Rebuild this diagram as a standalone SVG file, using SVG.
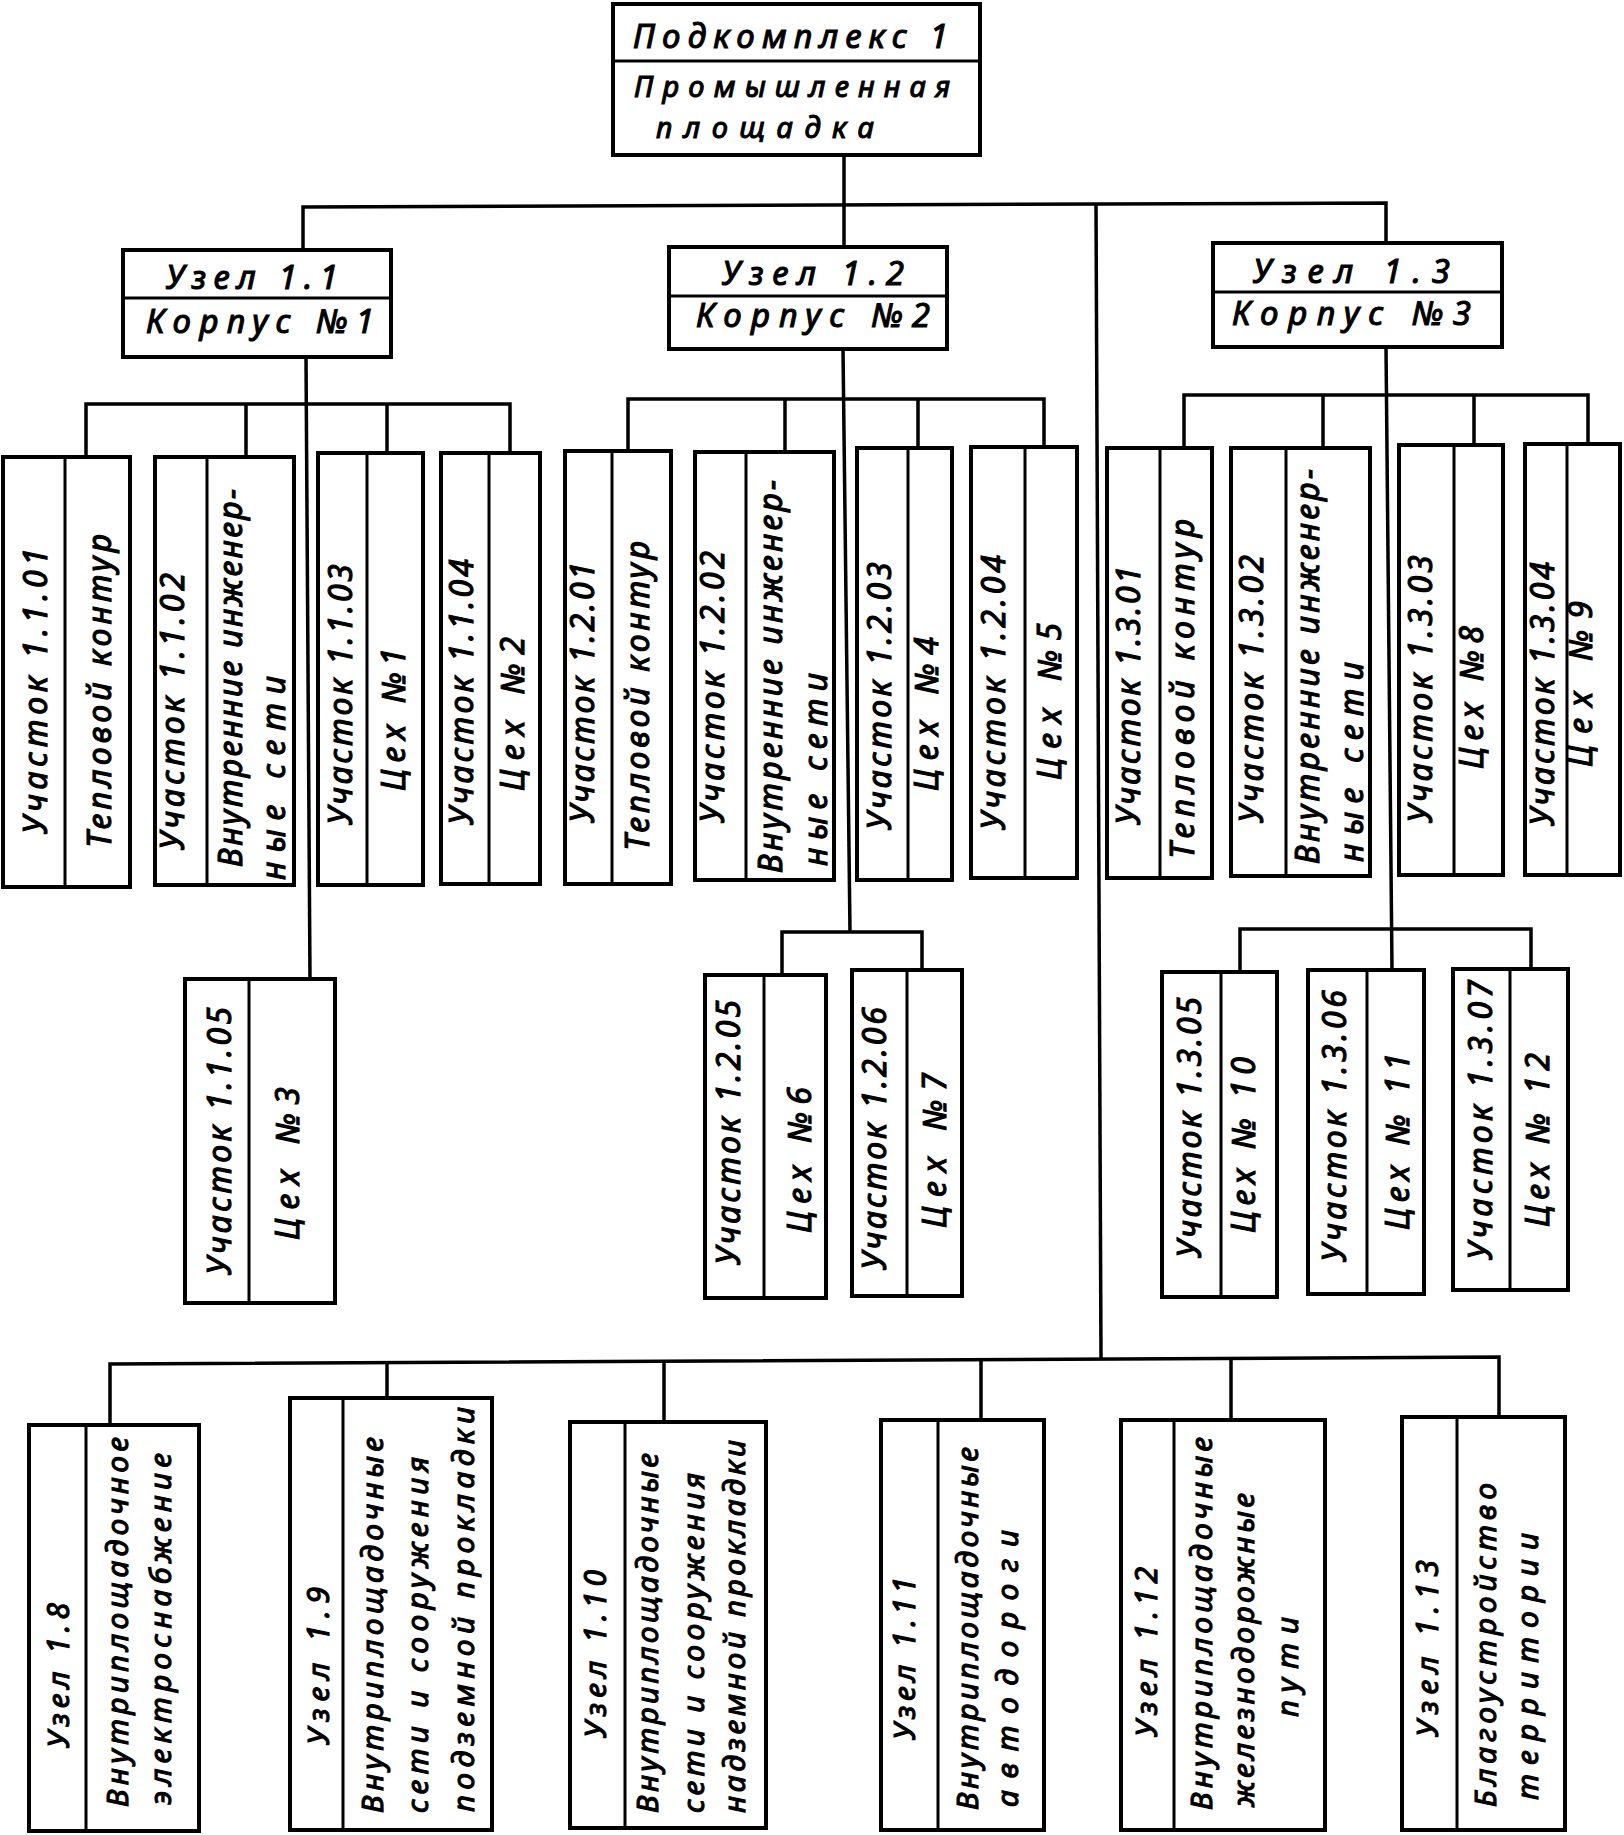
<svg xmlns="http://www.w3.org/2000/svg" width="1624" height="1835" viewBox="0 0 1624 1835">
<style>
.box{fill:#fff;stroke:#000;stroke-width:4}
.dv{stroke:#000;stroke-width:3}
.conn{fill:none;stroke:#000;stroke-width:3.5;stroke-linejoin:miter}
text{font-family:"Noto Sans","DejaVu Sans",sans-serif;font-style:italic;fill:#000;stroke:#000;stroke-width:1.1}
.h{font-size:33px}
.h2{font-size:29px}
.v{font-size:32px}
.s{font-size:30px}
</style>
<rect width="1624" height="1835" fill="#fff"/>
<g id="connectors">
<path class="conn" d="M844,155 V247"/>
<path class="conn" d="M303,250 V207 L1386,203 V243"/>
<path class="conn" d="M1096,205 L1101,1358"/>
<path class="conn" d="M110,1425 V1364 L1499,1357 V1417"/>
<path class="conn" d="M387,1363 V1398 M664,1362 V1422 M981,1360 V1420 M1231,1359 V1420"/>
<path class="conn" d="M306,357 L310,979"/>
<path class="conn" d="M86,457 V404 H510 V453 M246,404 V457 M387,404 V453"/>
<path class="conn" d="M843,349 L850,932"/>
<path class="conn" d="M628,451 V399 H1044 V447 M785,399 V452 M918,399 V448"/>
<path class="conn" d="M782,975 V932 H922 V970"/>
<path class="conn" d="M1386,347 L1392,970"/>
<path class="conn" d="M1184,448 V395 H1588 V444 M1323,395 V448 M1474,395 V445"/>
<path class="conn" d="M1240,972 V929 H1531 V969"/>
</g>

<g id="podkompleks-1">
<rect class="box" x="613" y="4" width="367" height="151"/>
<line class="dv" x1="613" y1="61" x2="980" y2="61"/>
<text class="h" x="633" y="48" textLength="315" lengthAdjust="spacing">Подкомплекс 1</text>
<text class="h2" x="634" y="97" textLength="316" lengthAdjust="spacing">Промышленная</text>
<text class="h2" x="656" y="138" textLength="218" lengthAdjust="spacing">площадка</text>
</g>

<g id="uzel-1-1">
<rect class="box" x="123" y="250" width="268" height="107"/>
<line class="dv" x1="123" y1="298" x2="391" y2="298"/>
<text class="h" x="166" y="289" textLength="172" lengthAdjust="spacing">Узел 1.1</text>
<text class="h" x="146" y="333" textLength="228" lengthAdjust="spacing">Корпус №1</text>
</g>
<g id="uzel-1-2">
<rect class="box" x="669" y="247" width="278" height="102"/>
<line class="dv" x1="669" y1="296" x2="947" y2="296"/>
<text class="h" x="722" y="285" textLength="182" lengthAdjust="spacing">Узел 1.2</text>
<text class="h" x="696" y="327" textLength="234" lengthAdjust="spacing">Корпус №2</text>
</g>
<g id="uzel-1-3">
<rect class="box" x="1213" y="243" width="289" height="104"/>
<line class="dv" x1="1213" y1="292" x2="1502" y2="292"/>
<text class="h" x="1253" y="283" textLength="197" lengthAdjust="spacing">Узел 1.3</text>
<text class="h" x="1232" y="325" textLength="239" lengthAdjust="spacing">Корпус №3</text>
</g>

<g id="uch-1-1-01">
<rect class="box" x="3" y="457" width="127" height="430"/>
<line class="dv" x1="65" y1="457" x2="65" y2="887"/>
<text class="v" transform="translate(47,834) rotate(-90)" textLength="286" lengthAdjust="spacing">Участок 1.1.01</text>
<text class="v" transform="translate(111,848) rotate(-90)" textLength="314" lengthAdjust="spacing">Тепловой контур</text>
</g>
<g id="uch-1-1-02">
<rect class="box" x="155" y="457" width="139" height="428"/>
<line class="dv" x1="207" y1="457" x2="207" y2="885"/>
<text class="v" transform="translate(184,850) rotate(-90)" textLength="277" lengthAdjust="spacing">Участок 1.1.02</text>
<text class="v" transform="translate(242,867) rotate(-90)" textLength="378" lengthAdjust="spacing">Внутренние инженер-</text>
<text class="v" transform="translate(285,880) rotate(-90)" textLength="204" lengthAdjust="spacing">ные  сети</text>
</g>
<g id="uch-1-1-03">
<rect class="box" x="318" y="453" width="105" height="432"/>
<line class="dv" x1="367" y1="453" x2="367" y2="885"/>
<text class="v" transform="translate(352,825) rotate(-90)" textLength="261" lengthAdjust="spacing">Участок 1.1.03</text>
<text class="v" transform="translate(405,791) rotate(-90)" textLength="143" lengthAdjust="spacing">Цех №1</text>
</g>
<g id="uch-1-1-04">
<rect class="box" x="441" y="453" width="99" height="431"/>
<line class="dv" x1="489" y1="453" x2="489" y2="884"/>
<text class="v" transform="translate(473,825) rotate(-90)" textLength="266" lengthAdjust="spacing">Участок 1.1.04</text>
<text class="v" transform="translate(524,791) rotate(-90)" textLength="154" lengthAdjust="spacing">Цех №2</text>
</g>
<g id="uch-1-2-01">
<rect class="box" x="565" y="451" width="106" height="433"/>
<line class="dv" x1="612" y1="451" x2="612" y2="884"/>
<text class="v" transform="translate(594,823) rotate(-90)" textLength="261" lengthAdjust="spacing">Участок 1.2.01</text>
<text class="v" transform="translate(649,851) rotate(-90)" textLength="310" lengthAdjust="spacing">Тепловой контур</text>
</g>
<g id="uch-1-2-02">
<rect class="box" x="695" y="452" width="139" height="428"/>
<line class="dv" x1="746" y1="452" x2="746" y2="880"/>
<text class="v" transform="translate(724,823) rotate(-90)" textLength="272" lengthAdjust="spacing">Участок 1.2.02</text>
<text class="v" transform="translate(782,873) rotate(-90)" textLength="393" lengthAdjust="spacing">Внутренние инженер-</text>
<text class="v" transform="translate(827,866) rotate(-90)" textLength="193" lengthAdjust="spacing">ные  сети</text>
</g>
<g id="uch-1-2-03">
<rect class="box" x="857" y="448" width="95" height="432"/>
<line class="dv" x1="908" y1="448" x2="908" y2="880"/>
<text class="v" transform="translate(891,830) rotate(-90)" textLength="268" lengthAdjust="spacing">Участок 1.2.03</text>
<text class="v" transform="translate(938,791) rotate(-90)" textLength="154" lengthAdjust="spacing">Цех №4</text>
</g>
<g id="uch-1-2-04">
<rect class="box" x="971" y="447" width="106" height="431"/>
<line class="dv" x1="1025" y1="447" x2="1025" y2="878"/>
<text class="v" transform="translate(1005,830) rotate(-90)" textLength="275" lengthAdjust="spacing">Участок 1.2.04</text>
<text class="v" transform="translate(1061,780) rotate(-90)" textLength="157" lengthAdjust="spacing">Цех №5</text>
</g>
<g id="uch-1-3-01">
<rect class="box" x="1107" y="448" width="105" height="430"/>
<line class="dv" x1="1160" y1="448" x2="1160" y2="878"/>
<text class="v" transform="translate(1140,825) rotate(-90)" textLength="259" lengthAdjust="spacing">Участок 1.3.01</text>
<text class="v" transform="translate(1194,859) rotate(-90)" textLength="340" lengthAdjust="spacing">Тепловой контур</text>
</g>
<g id="uch-1-3-02">
<rect class="box" x="1231" y="448" width="139" height="428"/>
<line class="dv" x1="1286" y1="448" x2="1286" y2="876"/>
<text class="v" transform="translate(1263,823) rotate(-90)" textLength="268" lengthAdjust="spacing">Участок 1.3.02</text>
<text class="v" transform="translate(1319,864) rotate(-90)" textLength="395" lengthAdjust="spacing">Внутренние инженер-</text>
<text class="v" transform="translate(1363,862) rotate(-90)" textLength="200" lengthAdjust="spacing">ные  сети</text>
</g>
<g id="uch-1-3-03">
<rect class="box" x="1399" y="445" width="104" height="430"/>
<line class="dv" x1="1454" y1="445" x2="1454" y2="875"/>
<text class="v" transform="translate(1432,823) rotate(-90)" textLength="268" lengthAdjust="spacing">Участок 1.3.03</text>
<text class="v" transform="translate(1483,769) rotate(-90)" textLength="143" lengthAdjust="spacing">Цех №8</text>
</g>
<g id="uch-1-3-04">
<rect class="box" x="1525" y="444" width="95" height="431"/>
<line class="dv" x1="1567" y1="444" x2="1567" y2="875"/>
<text class="v" transform="translate(1554,826) rotate(-90)" textLength="264" lengthAdjust="spacing">Участок 1.3.04</text>
<text class="v" transform="translate(1592,767) rotate(-90)" textLength="166" lengthAdjust="spacing">Цех №9</text>
</g>

<g id="uch-1-1-05">
<rect class="box" x="185" y="979" width="150" height="324"/>
<line class="dv" x1="249" y1="979" x2="249" y2="1303"/>
<text class="v" transform="translate(231,1275) rotate(-90)" textLength="268" lengthAdjust="spacing">Участок 1.1.05</text>
<text class="v" transform="translate(299,1240) rotate(-90)" textLength="153" lengthAdjust="spacing">Цех  №3</text>
</g>
<g id="uch-1-2-05">
<rect class="box" x="705" y="975" width="121" height="323"/>
<line class="dv" x1="764" y1="975" x2="764" y2="1298"/>
<text class="v" transform="translate(740,1265) rotate(-90)" textLength="265" lengthAdjust="spacing">Участок 1.2.05</text>
<text class="v" transform="translate(811,1233) rotate(-90)" textLength="146" lengthAdjust="spacing">Цех  №6</text>
</g>
<g id="uch-1-2-06">
<rect class="box" x="852" y="970" width="110" height="326"/>
<line class="dv" x1="907" y1="970" x2="907" y2="1296"/>
<text class="v" transform="translate(886,1270) rotate(-90)" textLength="263" lengthAdjust="spacing">Участок 1.2.06</text>
<text class="v" transform="translate(946,1228) rotate(-90)" textLength="155" lengthAdjust="spacing">Цех №7</text>
</g>
<g id="uch-1-3-05">
<rect class="box" x="1162" y="972" width="115" height="325"/>
<line class="dv" x1="1221" y1="972" x2="1221" y2="1297"/>
<text class="v" transform="translate(1201,1258) rotate(-90)" textLength="261" lengthAdjust="spacing">Участок 1.3.05</text>
<text class="v" transform="translate(1255,1233) rotate(-90)" textLength="176" lengthAdjust="spacing">Цех № 10</text>
</g>
<g id="uch-1-3-06">
<rect class="box" x="1308" y="970" width="116" height="324"/>
<line class="dv" x1="1367" y1="970" x2="1367" y2="1294"/>
<text class="v" transform="translate(1346,1262) rotate(-90)" textLength="272" lengthAdjust="spacing">Участок 1.3.06</text>
<text class="v" transform="translate(1409,1230) rotate(-90)" textLength="177" lengthAdjust="spacing">Цех № 11</text>
</g>
<g id="uch-1-3-07">
<rect class="box" x="1453" y="969" width="115" height="321"/>
<line class="dv" x1="1510" y1="969" x2="1510" y2="1290"/>
<text class="v" transform="translate(1492,1260) rotate(-90)" textLength="280" lengthAdjust="spacing">Участок 1.3.07</text>
<text class="v" transform="translate(1549,1227) rotate(-90)" textLength="174" lengthAdjust="spacing">Цех № 12</text>
</g>

<g id="uzel-1-8">
<rect class="box" x="29" y="1425" width="170" height="406"/>
<line class="dv" x1="86" y1="1425" x2="86" y2="1831"/>
<text class="s" transform="translate(69,1748) rotate(-90)" textLength="145" lengthAdjust="spacing">Узел 1.8</text>
<text class="s" transform="translate(128,1807) rotate(-90)" textLength="370" lengthAdjust="spacing">Внутриплощадочное</text>
<text class="s" transform="translate(171,1805) rotate(-90)" textLength="352" lengthAdjust="spacing">электроснабжение</text>
</g>
<g id="uzel-1-9">
<rect class="box" x="290" y="1398" width="202" height="432"/>
<line class="dv" x1="343" y1="1398" x2="343" y2="1830"/>
<text class="s" transform="translate(329,1745) rotate(-90)" textLength="158" lengthAdjust="spacing">Узел 1.9</text>
<text class="s" transform="translate(383,1813) rotate(-90)" textLength="376" lengthAdjust="spacing">Внутриплощадочные</text>
<text class="s" transform="translate(428,1813) rotate(-90)" textLength="356" lengthAdjust="spacing">сети и сооружения</text>
<text class="s" transform="translate(474,1812) rotate(-90)" textLength="405" lengthAdjust="spacing">подземной  прокладки</text>
</g>
<g id="uzel-1-10">
<rect class="box" x="570" y="1422" width="196" height="406"/>
<line class="dv" x1="625" y1="1422" x2="625" y2="1828"/>
<text class="s" transform="translate(606,1738) rotate(-90)" textLength="168" lengthAdjust="spacing">Узел 1.10</text>
<text class="s" transform="translate(658,1813) rotate(-90)" textLength="360" lengthAdjust="spacing">Внутриплощадочные</text>
<text class="s" transform="translate(704,1813) rotate(-90)" textLength="340" lengthAdjust="spacing">сети и сооружения</text>
<text class="s" transform="translate(745,1813) rotate(-90)" textLength="373" lengthAdjust="spacing">надземной прокладки</text>
</g>
<g id="uzel-1-11">
<rect class="box" x="881" y="1420" width="163" height="410"/>
<line class="dv" x1="938" y1="1420" x2="938" y2="1830"/>
<text class="s" transform="translate(915,1740) rotate(-90)" textLength="163" lengthAdjust="spacing">Узел 1.11</text>
<text class="s" transform="translate(978,1810) rotate(-90)" textLength="363" lengthAdjust="spacing">Внутриплощадочные</text>
<text class="s" transform="translate(1018,1807) rotate(-90)" textLength="277" lengthAdjust="spacing">автодороги</text>
</g>
<g id="uzel-1-12">
<rect class="box" x="1121" y="1420" width="204" height="410"/>
<line class="dv" x1="1174" y1="1420" x2="1174" y2="1830"/>
<text class="s" transform="translate(1157,1737) rotate(-90)" textLength="170" lengthAdjust="spacing">Узел 1.12</text>
<text class="s" transform="translate(1212,1810) rotate(-90)" textLength="373" lengthAdjust="spacing">Внутриплощадочные</text>
<text class="s" transform="translate(1254,1807) rotate(-90)" textLength="314" lengthAdjust="spacing">железнодорожные</text>
<text class="s" transform="translate(1298,1717) rotate(-90)" textLength="100" lengthAdjust="spacing">пути</text>
</g>
<g id="uzel-1-13">
<rect class="box" x="1402" y="1417" width="163" height="413"/>
<line class="dv" x1="1457" y1="1417" x2="1457" y2="1830"/>
<text class="s" transform="translate(1438,1737) rotate(-90)" textLength="177" lengthAdjust="spacing">Узел 1.13</text>
<text class="s" transform="translate(1496,1807) rotate(-90)" textLength="324" lengthAdjust="spacing">Благоустройство</text>
<text class="s" transform="translate(1538,1800) rotate(-90)" textLength="267" lengthAdjust="spacing">территории</text>
</g>
</svg>
